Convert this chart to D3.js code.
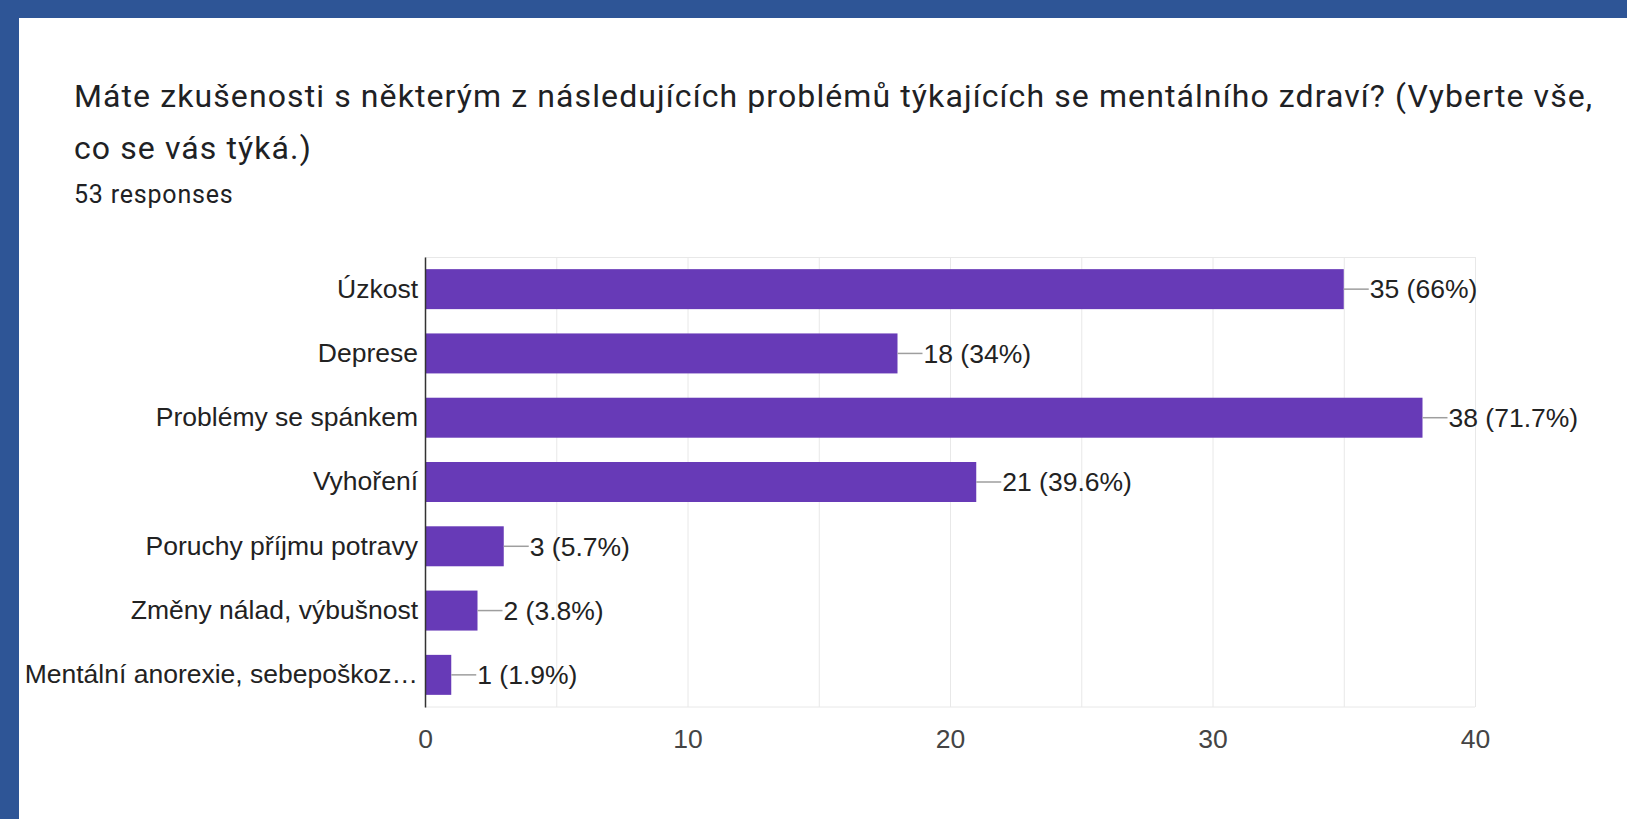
<!DOCTYPE html>
<html>
<head>
<meta charset="utf-8">
<script src="https://cdnjs.cloudflare.com/ajax/libs/d3/7.8.5/d3.min.js"></script>
<style>
  body { margin: 0; background: #fff; }
  svg { display: block; }
</style>
</head>
<body>
<div id="chart"></div>
<script>

// data
var categories = ["Úzkost", "Deprese", "Problémy se spánkem", "Vyhoření",
  "Poruchy příjmu potravy", "Změny nálad, výbušnost", "Mentální anorexie, sebepoškoz…"];
var counts = [35, 18, 38, 21, 3, 2, 1];
var percents = ["66%", "34%", "71.7%", "39.6%", "5.7%", "3.8%", "1.9%"];
var xTicks = [0, 10, 20, 30, 40];
var titleLines = ["Máte zkušenosti s některým z následujících problémů týkajících se mentálního zdraví? (Vyberte vše,",
  "co se vás týká.)"];
var subtitle = "53 responses";

var width = 1627, height = 819;
var plot = {left: 425, right: 1475, top: 257, bottom: 707};

var rows = categories.map(function(c, i) {
  return {name: c, value: counts[i], pct: percents[i]};
});

var svg = d3.select("#chart").append("svg")
  .attr("width", width)
  .attr("height", height);

// blue frame top + left
svg.append("rect").attr("x", 0).attr("y", 0).attr("width", width).attr("height", 18).attr("fill", "#2e5596");
svg.append("rect").attr("x", 0).attr("y", 0).attr("width", 19).attr("height", height).attr("fill", "#2e5596");

// title
svg.selectAll(".title")
  .data(titleLines)
  .enter().append("text")
  .attr("class", "title")
  .attr("x", 74)
  .attr("y", function(d, i) { return 106.5 + i * 52.5; })
  .style("font-family", "Roboto")
  .style("font-size", "32px")
  .style("letter-spacing", "1.1px")
  .attr("fill", "#202124")
  .text(function(d) { return d; });

svg.append("text")
  .attr("x", 74)
  .attr("y", 203)
  .style("font-family", "Roboto")
  .style("font-size", "25px")
  .style("letter-spacing", "0.8px")
  .attr("fill", "#202124")
  .text(subtitle);

var x = d3.scaleLinear()
  .domain([0, 40])
  .range([plot.left, plot.right]);

var y = d3.scaleBand()
  .domain(categories)
  .range([plot.top, plot.bottom])
  .paddingInner(0.378)
  .paddingOuter(0.189);

// gridlines every 5
var grid = svg.append("g")
  .attr("transform", "translate(0," + plot.bottom + ")")
  .call(d3.axisBottom(x).tickValues(d3.range(0, 41, 5)).tickSize(-(plot.bottom - plot.top)).tickFormat(""));
grid.select(".domain").remove();
grid.selectAll("line").attr("stroke", "#e8e8e8");

svg.append("line")
  .attr("x1", plot.left).attr("x2", plot.right)
  .attr("y1", plot.top + 0.5).attr("y2", plot.top + 0.5)
  .attr("stroke", "#e8e8e8");
svg.append("line")
  .attr("x1", plot.left).attr("x2", plot.right)
  .attr("y1", plot.bottom).attr("y2", plot.bottom)
  .attr("stroke", "#e8e8e8");

// x tick labels
var xAxis = svg.append("g")
  .attr("transform", "translate(0," + plot.bottom + ")")
  .call(d3.axisBottom(x).tickValues(xTicks).tickSize(0).tickPadding(22));
xAxis.select(".domain").remove();
xAxis.selectAll("text")
  .style("font-family", "'Liberation Sans', Arial, sans-serif")
  .style("font-size", "26.5px")
  .attr("fill", "#444");

// bars
svg.selectAll(".bar")
  .data(rows)
  .enter().append("rect")
  .attr("class", "bar")
  .attr("x", x(0))
  .attr("y", function(d) { return y(d.name); })
  .attr("width", function(d) { return x(d.value) - x(0); })
  .attr("height", y.bandwidth())
  .attr("fill", "#673ab7");

// value connectors + labels
svg.selectAll(".conn")
  .data(rows)
  .enter().append("line")
  .attr("class", "conn")
  .attr("x1", function(d) { return x(d.value); })
  .attr("x2", function(d) { return x(d.value) + 25; })
  .attr("y1", function(d) { return y(d.name) + y.bandwidth() / 2; })
  .attr("y2", function(d) { return y(d.name) + y.bandwidth() / 2; })
  .attr("stroke", "#9e9e9e")
  .attr("stroke-width", 1.5);

svg.selectAll(".val")
  .data(rows)
  .enter().append("text")
  .attr("class", "val")
  .attr("x", function(d) { return x(d.value) + 26; })
  .attr("y", function(d) { return y(d.name) + y.bandwidth() / 2; })
  .attr("dy", "0.35em")
  .style("font-family", "'Liberation Sans', Arial, sans-serif")
  .style("font-size", "26.5px")
  .attr("fill", "#222")
  .text(function(d) { return d.value + " (" + d.pct + ")"; });

// y axis
var yAxis = svg.append("g")
  .attr("transform", "translate(" + plot.left + ",0)")
  .call(d3.axisLeft(y).tickSize(0).tickPadding(7));
yAxis.select(".domain").attr("stroke", "#333").attr("stroke-width", 1.5);
yAxis.selectAll("text")
  .style("font-family", "'Liberation Sans', Arial, sans-serif")
  .style("font-size", "26.5px")
  .attr("fill", "#222");

</script>
</body>
</html>
